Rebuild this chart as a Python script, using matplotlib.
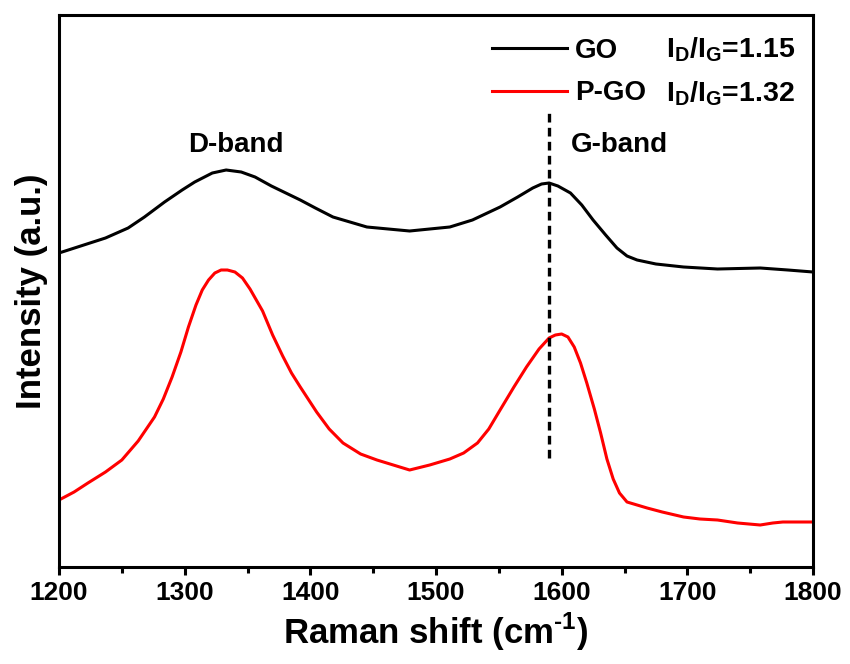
import matplotlib
matplotlib.use("Agg")
import matplotlib.pyplot as plt
from matplotlib.ticker import MultipleLocator, NullLocator

plt.rcParams['font.family'] = ['Liberation Sans', 'DejaVu Sans']
plt.rcParams['font.weight'] = 'bold'
plt.rcParams['mathtext.fontset'] = 'custom'
plt.rcParams['mathtext.rm'] = 'Liberation Sans:bold'
plt.rcParams['mathtext.bf'] = 'Liberation Sans:bold'

# Raman spectra (intensity in arbitrary units)
go_shift = [1200, 1237, 1255, 1268, 1284, 1298, 1308, 1322, 1333, 1345, 1356,
            1369, 1392, 1404, 1418, 1445, 1479, 1511, 1529, 1551, 1565, 1577,
            1584, 1590, 1597, 1607, 1616, 1625, 1635, 1644, 1652, 1660, 1675,
            1697, 1724, 1758, 1780, 1800]
go_int = [314, 329, 339, 350, 365, 377, 385, 394, 397, 395, 390,
          381, 367, 359, 350, 340, 336, 340, 347, 360, 370, 379,
          383, 384, 381, 374, 362, 347, 332, 319, 311, 307, 303,
          300, 298, 299, 297, 295]

pgo_shift = [1200, 1212, 1223, 1237, 1250, 1263, 1276, 1283, 1290, 1297, 1303,
             1309, 1314, 1319, 1324, 1329, 1334, 1340, 1346, 1352, 1362, 1370,
             1378, 1385, 1392, 1405, 1415, 1426, 1440, 1453, 1466, 1479, 1495,
             1511, 1522, 1533, 1542, 1551, 1562, 1572, 1582, 1590, 1595, 1600,
             1605, 1610, 1615, 1620, 1626, 1631, 1636, 1641, 1646, 1652, 1660,
             1668, 1680, 1697, 1710, 1724, 1740, 1758, 1768, 1776, 1800]
pgo_int = [67, 75, 84, 95, 107, 126, 150, 168, 190, 215, 240,
           262, 277, 287, 294, 297, 297, 295, 289, 278, 256, 232,
           211, 194, 180, 155, 138, 124, 113, 107, 102, 97, 102,
           108, 114, 124, 138, 157, 180, 200, 218, 229, 232, 233,
           230, 220, 204, 184, 158, 134, 108, 88, 74, 65, 62,
           59, 55, 50, 48, 47, 44, 42, 44, 45, 45]

labels = ['GO', 'P-GO']
ratios = ['1.15', '1.32']
colors = ['black', '#ff0000']
g_band_pos = 1590

fig = plt.figure(figsize=(8.5, 6.64), dpi=100)
ax = fig.add_axes([59 / 850, 1 - 567 / 664, 754 / 850, 552 / 664])

ax.plot(go_shift, go_int, color=colors[0], lw=2.2, label=labels[0])
ax.plot(pgo_shift, pgo_int, color=colors[1], lw=2.2, label=labels[1])

ax.plot([g_band_pos, g_band_pos], [109, 457], color='black', lw=2.4,
        linestyle=(0, (2.6, 1.6)))

ax.text(1341, 422, 'D-band', fontsize=20, fontweight='bold', ha='center', va='center')
ax.text(1646, 422, 'G-band', fontsize=20, fontweight='bold', ha='center', va='center')

leg = ax.legend(loc='upper left', bbox_to_anchor=(0.574, 0.959), frameon=False,
                fontsize=20, handlelength=2.7, handletextpad=0.3,
                borderpad=0, borderaxespad=0, labelspacing=0.6)
for t in leg.get_texts():
    t.set_fontweight('bold')

for r, yy in zip(ratios, [0.9366, 0.858]):
    ax.text(0.805, yy, r'I$_\mathregular{D}$/I$_\mathregular{G}$=' + r,
            transform=ax.transAxes, fontsize=20.5, fontweight='bold',
            ha='left', va='center')

ax.set_xlim(1200, 1800)
ax.set_ylim(0, 552)
ax.xaxis.set_major_locator(MultipleLocator(100))
ax.xaxis.set_minor_locator(MultipleLocator(50))
ax.yaxis.set_major_locator(NullLocator())
ax.tick_params(axis='x', which='major', direction='out', length=6, width=2.2,
               labelsize=19, pad=4, top=False)
ax.tick_params(axis='x', which='minor', direction='out', length=4, width=2.2, top=False)
for lbl in ax.get_xticklabels():
    lbl.set_fontweight('bold')
for s in ax.spines.values():
    s.set_linewidth(2.2)

ax.set_xlabel(r'Raman shift (cm$^\mathregular{\text{-}1}$)', fontsize=25, fontweight='bold', labelpad=4)
ax.set_ylabel('Intensity (a.u.)', fontsize=25, fontweight='bold', labelpad=8)

fig.savefig('out.png', dpi=100)
